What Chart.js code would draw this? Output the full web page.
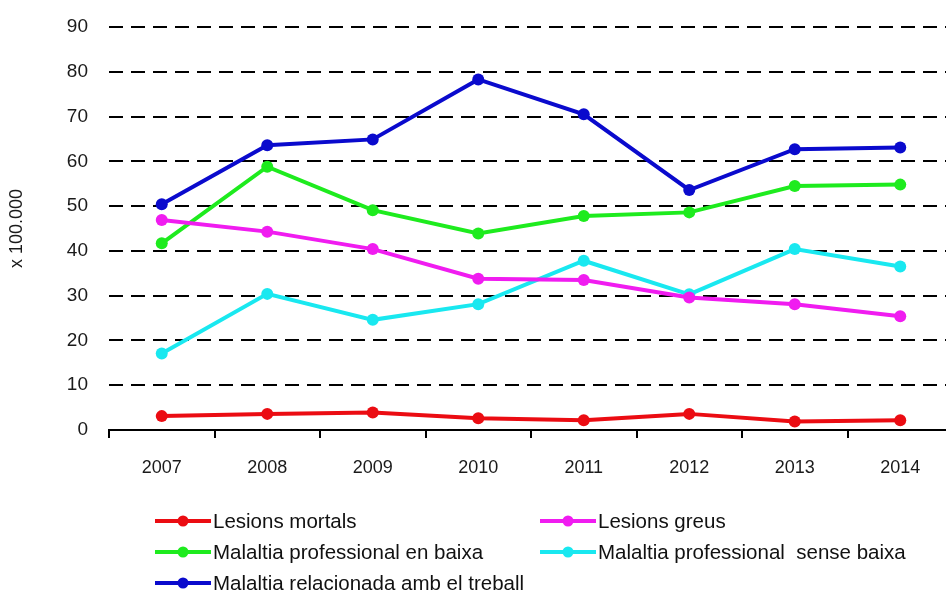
<!DOCTYPE html>
<html>
<head>
<meta charset="utf-8">
<script src="https://cdn.jsdelivr.net/npm/chart.js@4.4.1/dist/chart.umd.min.js"></script>
<style>
  html, body { margin: 0; padding: 0; background: #fff; overflow: hidden; }
  #chart { display: block; }
</style>
</head>
<body>
<canvas id="chart" width="960" height="594"></canvas>
<script>
// rates per 100.000 workers, 2007-2014
const years = ['2007', '2008', '2009', '2010', '2011', '2012', '2013', '2014'];
const lesionsMortals = [3.1, 3.6, 3.9, 2.6, 2.2, 3.6, 1.9, 2.2];
const lesionsGreus = [46.9, 44.3, 40.4, 33.8, 33.5, 29.6, 28.1, 25.4];
const malaltiaAmbBaixa = [41.7, 58.8, 49.1, 43.9, 47.8, 48.6, 54.5, 54.8];
const malaltiaSenseBaixa = [17.1, 30.4, 24.6, 28.1, 37.8, 30.3, 40.4, 36.5];
const malaltiaRelacionada = [50.4, 63.6, 64.9, 78.3, 70.5, 53.6, 62.7, 63.1];
const yTicks = [0, 10, 20, 30, 40, 50, 60, 70, 80, 90];

const FONT = 'Arial, "Liberation Sans", sans-serif';

function series(label, data, color) {
  return {
    label,
    data,
    borderColor: color,
    backgroundColor: color,
    borderWidth: 4,
    pointRadius: 6,
    pointBorderWidth: 0,
    pointBackgroundColor: color,
    tension: 0,
  };
}

// two-column legend under the axis: line + dot, then the label
const legendGrid = {
  id: 'legendGrid',
  afterDraw(chart) {
    const { ctx } = chart;
    const cols = [155, 540];
    const rows = [521, 552, 583];
    ctx.save();
    ctx.font = '20.5px ' + FONT;
    ctx.textBaseline = 'middle';
    chart.data.datasets.forEach((ds, i) => {
      const x = cols[i % 2];
      const y = rows[Math.floor(i / 2)];
      ctx.strokeStyle = ds.borderColor;
      ctx.lineWidth = 4;
      ctx.beginPath();
      ctx.moveTo(x, y);
      ctx.lineTo(x + 56, y);
      ctx.stroke();
      ctx.fillStyle = ds.borderColor;
      ctx.beginPath();
      ctx.arc(x + 28, y, 5.5, 0, Math.PI * 2);
      ctx.fill();
      ctx.fillStyle = '#111';
      ctx.fillText(ds.label, x + 58, y + 1);
    });
    ctx.restore();
  },
};

new Chart(document.getElementById('chart'), {
  type: 'line',
  data: {
    labels: years,
    datasets: [
      series('Lesions mortals', lesionsMortals, 'rgb(235, 12, 18)'),
      series('Lesions greus', lesionsGreus, 'rgb(240, 28, 240)'),
      series('Malaltia professional en baixa', malaltiaAmbBaixa, 'rgb(30, 235, 30)'),
      series('Malaltia professional  sense baixa', malaltiaSenseBaixa, 'rgb(25, 232, 240)'),
      series('Malaltia relacionada amb el treball', malaltiaRelacionada, 'rgb(10, 10, 205)'),
    ],
  },
  options: {
    responsive: false,
    animation: false,
    layout: { padding: { top: 0, right: 7, bottom: 104, left: 0 } },
    plugins: {
      legend: { display: false },
      tooltip: { enabled: false },
    },
    scales: {
      x: {
        offset: true,
        afterFit(scale) { scale.height = 60; },
        grid: {
          offset: true,
          drawOnChartArea: false,
          drawTicks: true,
          tickLength: 8,
          color: '#000',
          lineWidth: 2,
        },
        border: { display: true, color: '#000', width: 2 },
        ticks: {
          color: '#1a1a1a',
          font: { family: FONT, size: 18 },
          padding: 19,
          maxRotation: 0,
        },
      },
      y: {
        min: 0,
        max: 90,
        afterFit(scale) {
          scale.width = 109;
          scale.paddingTop = 27;
        },
        afterBuildTicks(scale) { scale.ticks = yTicks.map((v) => ({ value: v })); },
        grid: {
          drawTicks: false,
          color: (c) => (c.tick && c.tick.value === 0 ? 'rgba(0,0,0,0)' : '#000'),
          lineWidth: 2,
        },
        border: { display: false, dash: [14, 8] },
        ticks: {
          color: '#1a1a1a',
          font: { family: FONT, size: 19 },
          padding: 21,
        },
        title: {
          display: true,
          text: 'x 100.000',
          color: '#1a1a1a',
          font: { family: FONT, size: 18 },
          padding: { top: 6, bottom: 0 },
        },
      },
    },
  },
  plugins: [legendGrid],
});
</script>
</body>
</html>
